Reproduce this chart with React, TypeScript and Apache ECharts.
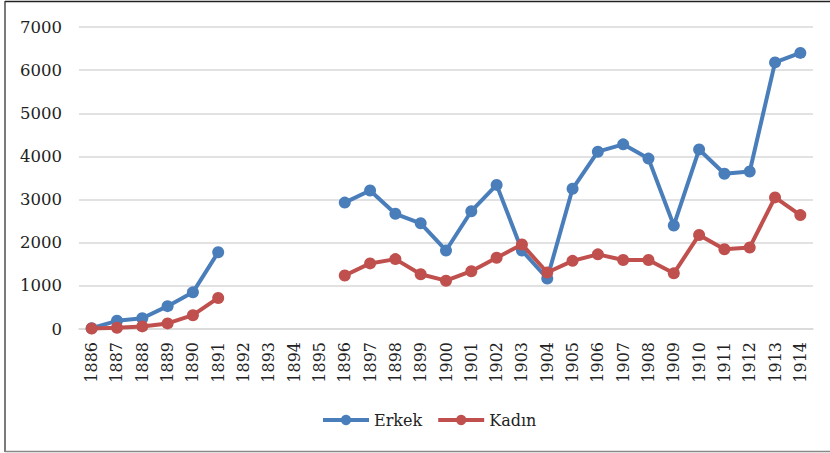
import React, { useEffect, useRef } from "react";
import * as echarts from "echarts";

const years = [
  "1886", "1887", "1888", "1889", "1890", "1891", "1892", "1893", "1894", "1895",
  "1896", "1897", "1898", "1899", "1900", "1901", "1902", "1903", "1904", "1905",
  "1906", "1907", "1908", "1909", "1910", "1911", "1912", "1913", "1914",
];

const erkek: (number | null)[] = [
  20, 190, 250, 530, 850, 1780, null, null, null, null,
  2930, 3210, 2670, 2450, 1820, 2730, 3340, 1820, 1170, 3250,
  4110, 4280, 3950, 2400, 4160, 3600, 3650, 6180, 6400,
];

const kadin: (number | null)[] = [
  10, 30, 60, 130, 320, 720, null, null, null, null,
  1240, 1520, 1620, 1270, 1120, 1340, 1650, 1960, 1310, 1580,
  1730, 1600, 1600, 1290, 2180, 1850, 1890, 3050, 2640,
];

const yTicks = [0, 1000, 2000, 3000, 4000, 5000, 6000, 7000];

const FONT = "DejaVu Serif";

export default function App() {
  const ref = useRef<HTMLDivElement>(null);
  useEffect(() => {
    document.body.style.margin = "0";
    const chart = echarts.init(ref.current!, null, { renderer: "svg" });
    chart.setOption({
      animation: false,
      backgroundColor: "#ffffff",
      grid: { left: 79, right: 17, top: 27, bottom: 124, containLabel: false },
      graphic: [
        { type: "line", shape: { x1: 5, y1: 1.5, x2: 830, y2: 1.5 }, style: { stroke: "#222", lineWidth: 1.5 } },
        { type: "line", shape: { x1: 5, y1: 1, x2: 5, y2: 452 }, style: { stroke: "#333", lineWidth: 1.3 } },
        { type: "line", shape: { x1: 5, y1: 451.5, x2: 830, y2: 451.5 }, style: { stroke: "#888", lineWidth: 1.5 } },
      ],
      legend: {
        bottom: 20,
        left: 316,
        itemWidth: 46,
        itemHeight: 13,
        itemGap: 14,
        lineStyle: { width: 4 },
        textStyle: { fontFamily: FONT, fontSize: 16, color: "#222" },
        data: ["Erkek", "Kadın"],
      },
      xAxis: {
        type: "category",
        data: years,
        boundaryGap: true,
        axisLine: { show: true, lineStyle: { color: "#d9d9d9", width: 1.5 } },
        axisTick: { show: false },
        axisLabel: {
          rotate: 90,
          interval: 0,
          margin: 13,
          fontFamily: FONT,
          fontSize: 16,
          color: "#222",
        },
      },
      yAxis: {
        type: "value",
        min: 0,
        max: 7000,
        interval: 1000,
        axisLine: { show: false },
        axisTick: { show: false },
        splitLine: { lineStyle: { color: "#d9d9d9", width: 1.5 } },
        axisLabel: {
          margin: 17,
          fontFamily: FONT,
          fontSize: 16.5,
          color: "#222",
          formatter: (v: number) => (yTicks.includes(v) ? String(v) : ""),
        },
      },
      series: [
        {
          name: "Erkek",
          type: "line",
          data: erkek,
          connectNulls: false,
          symbol: "circle",
          symbolSize: 12,
          color: "#4a7ebb",
          lineStyle: { width: 4, color: "#4a7ebb" },
          itemStyle: { color: "#4a7ebb" },
          z: 2,
        },
        {
          name: "Kadın",
          type: "line",
          data: kadin,
          connectNulls: false,
          symbol: "circle",
          symbolSize: 12,
          color: "#c0504d",
          lineStyle: { width: 4, color: "#c0504d" },
          itemStyle: { color: "#c0504d" },
          z: 3,
        },
      ],
    });
    return () => chart.dispose();
  }, []);
  return <div ref={ref} style={{ width: 830, height: 453 }} />;
}
